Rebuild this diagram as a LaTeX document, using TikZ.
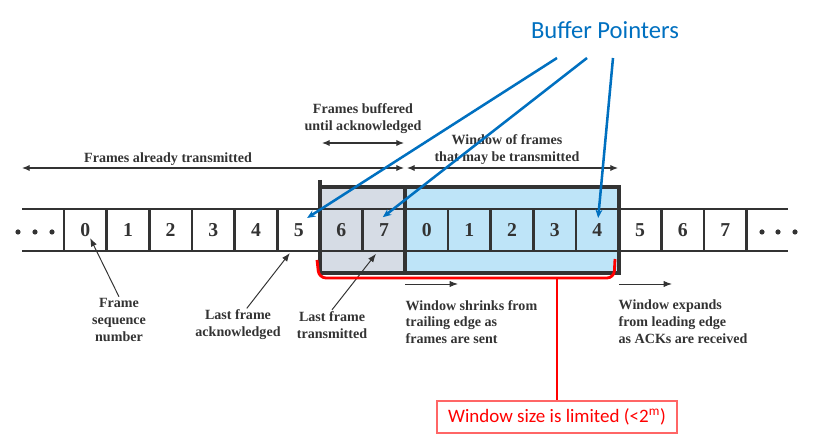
\documentclass[tikz,border=0pt]{standalone}
\usepackage{fontspec}
\setmainfont{Liberation Serif}
\newfontfamily\calibri{Carlito}
\usepackage{tikz}
\usetikzlibrary{arrows.meta}

\definecolor{ptrblue}{RGB}{0,112,192}
\definecolor{bufgray}{RGB}{214,220,229}
\definecolor{winblue}{RGB}{190,228,248}
\definecolor{framedark}{RGB}{51,51,51}
\definecolor{limitred}{RGB}{255,0,0}

\tikzset{
  cell/.style={draw=framedark,line width=1.8pt,minimum width=1.067cm,minimum height=1.05cm,inner sep=0pt,outer sep=0pt,font=\fontsize{14}{16}\selectfont\bfseries,text=framedark},
  stripline/.style={framedark,line width=1.8pt},
  boxline/.style={framedark,line width=2.4pt},
  lbl/.style={align=center,font=\fontsize{10}{12}\selectfont\bfseries,text=framedark,inner sep=1pt},
  spanarrow/.style={framedark,line width=0.8pt,{Latex[length=5.5pt,width=4.5pt]}-{Latex[length=5.5pt,width=4.5pt]}},
  thinarrow/.style={framedark,line width=0.7pt,-{Latex[length=6pt,width=4.5pt]}},
  ptrline/.style={ptrblue,line width=1.8pt,-{Stealth[length=6pt,width=5pt]}},
  redline/.style={limitred,line width=2pt},
  limitbox/.style={draw=limitred!60,line width=0.8pt,fill=white,minimum width=6cm,minimum height=0.8cm,font=\calibri\fontsize{13.5}{16}\selectfont,text=limitred}
}

\begin{document}
\begin{tikzpicture}[x=0.025cm,y=-0.025cm]
\useasboundingbox (0,0) rectangle (818,444);

% window boxes
\fill[bufgray] (320,187) rectangle (405,273);
\fill[winblue] (405,187) rectangle (619,273);

% frame strip
\foreach \i in {0,...,15}{
  \pgfmathtruncatemacro{\d}{mod(\i,8)}
  \node[cell] (c\i) at ({85.33+42.67*\i},230) {\d};
}
\coordinate (leftend) at (22,230);
\coordinate (rightend) at (788,230);
\draw[stripline] (c0.north west) -- (c0.north west -| leftend);
\draw[stripline] (c0.south west) -- (c0.south west -| leftend);
\draw[stripline] (c15.north east) -- (c15.north east -| rightend);
\draw[stripline] (c15.south east) -- (c15.south east -| rightend);
\foreach \x in {18,35,52,762,778,795}
  \fill[framedark] (\x,232) circle (0.065cm);

\draw[boxline] (320,187) rectangle (619,273);
\draw[boxline] (320,180) -- (320,187);
\draw[boxline] (405,187) -- (405,273);

% labels above
\node[lbl] (done) at (168,159) {Frames already transmitted};
\draw[spanarrow] (22,168) -- (404,168);
\node[lbl] (buffered) at (363,119) {Frames buffered\\until acknowledged};
\draw[spanarrow] (322,143) -- (404,143);
\node[lbl] (window) at (507,150) {Window of frames\\that may be transmitted};
\draw[spanarrow] (407,168) -- (618,168);

% labels below
\node[lbl] (seq) at (119,320) {Frame\\sequence\\number};
\node[lbl] (ack) at (238,325) {Last frame\\acknowledged};
\node[lbl] (sent) at (332,325) {Last frame\\transmitted};
\node[lbl,anchor=west,align=left] (shrink) at (404,322) {Window shrinks from\\trailing edge as\\frames are sent};
\node[lbl,anchor=west,align=left] (expand) at (617,322) {Window expands\\from leading edge\\as ACKs are received};

\draw[thinarrow] (seq.north) -- ([xshift=0.12cm,yshift=-0.2cm]c0.center);
\draw[thinarrow] ([xshift=0.22cm]ack.north) -- ([xshift=-0.22cm,yshift=-0.05cm]c5.south);
\draw[thinarrow] (sent.north) -- ([xshift=-0.2cm,yshift=-0.07cm]c7.south);
\draw[thinarrow] (405,284) -- (458,284);
\draw[thinarrow] (619,284) -- (672,284);

% buffer pointers
\node[font=\calibri\fontsize{17.5}{20}\selectfont,text=ptrblue] (bp) at (605,30) {Buffer Pointers};
\coordinate (bp1) at (557,58);
\coordinate (bp2) at (587,58);
\coordinate (bp3) at (613,58);
\draw[ptrline] (bp1) -- ([xshift=0.21cm,yshift=0.3cm]c5.center);
\draw[ptrline] (bp2) -- ([xshift=-0.03cm,yshift=0.32cm]c7.center);
\draw[ptrline] (bp3) -- ([xshift=0.02cm,yshift=0.3cm]c12.center);

% window size limit
\node[limitbox] (limit) at (557,417) {Window size is limited (<2\textsuperscript{m})};
\coordinate (brace) at (557,278);
\draw[redline,rounded corners=5pt] (317,260) -- (319,278) -- (614,278) -- (615,259);
\draw[redline] (brace) -- (limit.north);

\end{tikzpicture}
\end{document}
